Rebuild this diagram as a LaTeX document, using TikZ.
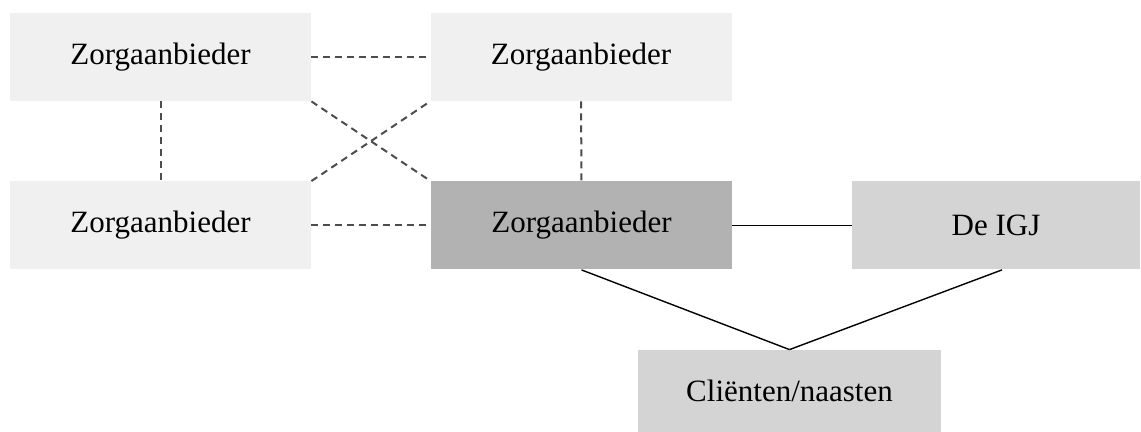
\documentclass[tikz,border=0pt]{standalone}
\usepackage{fontspec}
\setmainfont{Liberation Serif}
\begin{document}
\begin{tikzpicture}[x=0.5pt,y=-0.5pt]
	\tikzset{zorg/.style={
			rectangle,
			inner sep=0pt,
			minimum width=150.5pt,
			minimum height=44pt,
			font=\fontsize{15.5}{18}\selectfont,
			fill=black!6},
		eigen/.style={zorg, fill=black!30},
		partij/.style={zorg, fill=black!17},
		peer/.style={dashed, dash pattern=on 3.5pt off 2.5pt, line width=1pt, black!70},
		lijn/.style={line width=0.7pt, black}}
	
	\useasboundingbox (0,0) rectangle (1141,432);
	
	%% ZORGAANBIEDERS
	\node[zorg] (ZA1) at (160.5,57) {Zorgaanbieder};
	\node[zorg] (ZA2) at (581,57) {Zorgaanbieder};
	\node[zorg] (ZA3) at (160.5,225.5) {Zorgaanbieder};
	\node[eigen] (ZA4) at (581.5,225.5) {Zorgaanbieder};
	
	%% TOEZICHT EN CLIENTEN
	\node[partij, minimum width=144pt] (IGJ) at (996,225.5) {De IGJ};
	\node[partij, minimum width=151.5pt, minimum height=41pt] (Client) at (789.5,391) {Cliënten/naasten};
	
	\draw[peer] (ZA1) -- (ZA2);
	\draw[peer] (ZA3) -- (ZA4);
	\draw[peer] (ZA1) -- (ZA3);
	\draw[peer] (ZA2) -- (ZA4);
	\draw[peer] (ZA1.south east) -- (ZA4.north west);
	\draw[peer] (ZA3.north east) -- (ZA2.south west);
	
	\draw[lijn] (ZA4) -- (IGJ);
	\draw[lijn] (ZA4.south) -- (Client.north);
	\draw[lijn] ([xshift=3pt]IGJ.south) -- (Client.north);
	
\end{tikzpicture}
\end{document}
